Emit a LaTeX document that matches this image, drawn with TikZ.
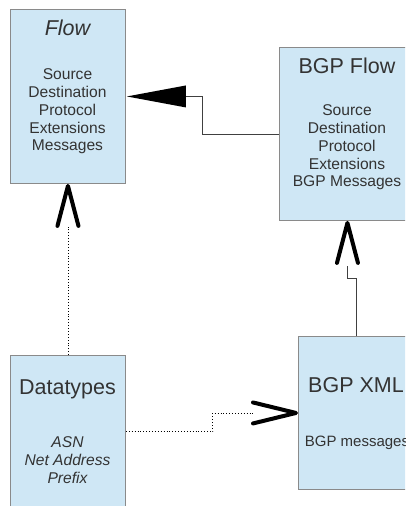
\documentclass[tikz,border=0pt]{standalone}
\usepackage{fontspec}
\setmainfont{Liberation Sans}
\usetikzlibrary{calc}

\definecolor{boxfill}{HTML}{CFE7F5}
\definecolor{boxline}{HTML}{8A8A8A}
\definecolor{ink}{HTML}{333333}

\begin{document}
\begin{tikzpicture}[x=1pt,y=-1pt,
  block/.style={draw=boxline, fill=boxfill, line width=0.9pt, anchor=north west, inner sep=0pt},
  heading/.style={text=ink, font=\fontsize{21.5}{24}\selectfont, anchor=base, inner sep=0pt},
  body/.style={text=ink, font=\fontsize{15.6}{17.8}\selectfont, align=center, anchor=north, inner sep=0pt},
  link/.style={draw=black!75, line width=0.9pt},
  dots/.style={draw=black, line width=0.9pt, dotted},
  barb/.style={draw=black, line width=4pt, line cap=round, line join=round},
  headtip/.style={fill=black},
]
\useasboundingbox (0,0) rectangle (405,506);
\clip (0,0) rectangle (405,506);

% boxes
\node[block, minimum width=115pt, minimum height=174pt] (flow) at (10,9) {};
\node[block, minimum width=136pt, minimum height=173pt] (bgpflow) at (279,47) {};
\node[block, minimum width=115pt, minimum height=152pt] (dt) at (10,355) {};
\node[block, minimum width=116pt, minimum height=153pt] (bgpxml) at (298,336) {};

% texts
\node[heading, font=\fontsize{21.5}{24}\selectfont\itshape] (flowT) at (67.5,35) {Flow};
\node[body] (flowB) at (67.5,68.6) {Source\\Destination\\Protocol\\Extensions\\Messages};

\node[heading] (bgpflowT) at (347,73) {BGP Flow};
\node[body] (bgpflowB) at (347,104.6) {Source\\Destination\\Protocol\\Extensions\\BGP Messages};

\node[heading] (dtT) at (67.5,394) {Datatypes};
\node[body, font=\fontsize{15.6}{18}\selectfont\itshape] (dtB) at (67.5,436.6) {ASN\\Net Address\\Prefix};

\node[heading] (bgpxmlT) at (356,392) {BGP XML};
\node[heading, font=\fontsize{15}{17}\selectfont] (bgpxmlB) at (357,446) {BGP messages};

% Datatypes -> Flow
\draw[dots] (dt.north) -- ($(flow.south)+(0,42)$);
\draw[barb] ($(flow.south)+(-10.5,42)$) -- ($(flow.south)+(0,2)$) -- ($(flow.south)+(10.5,42)$);

% BGP Flow -> Flow
\draw[link] (bgpflow.west) -- ++(-77,0) |- ($(flow.east)+(60,0)$);
\fill[headtip] ($(flow.east)+(1,0)$) -- ($(flow.east)+(60,-11)$) -- ($(flow.east)+(60,11)$) -- cycle;

% BGP XML -> BGP Flow
\draw[link] (bgpxml.north) -- ++(0,-58) -| ($(bgpflow.south)+(0,45)$);
\draw[barb] ($(bgpflow.south)+(-10.5,42)$) -- ($(bgpflow.south)+(0,2)$) -- ($(bgpflow.south)+(10.5,42)$);

% Datatypes -> BGP XML
\draw[dots] (dt.east) -- ++(87,0) |- ($(bgpxml.west)+(-45,0)$);
\draw[barb] ($(bgpxml.west)+(-45,-10.5)$) -- ($(bgpxml.west)+(-2,0)$) -- ($(bgpxml.west)+(-45,10.5)$);
\end{tikzpicture}
\end{document}
